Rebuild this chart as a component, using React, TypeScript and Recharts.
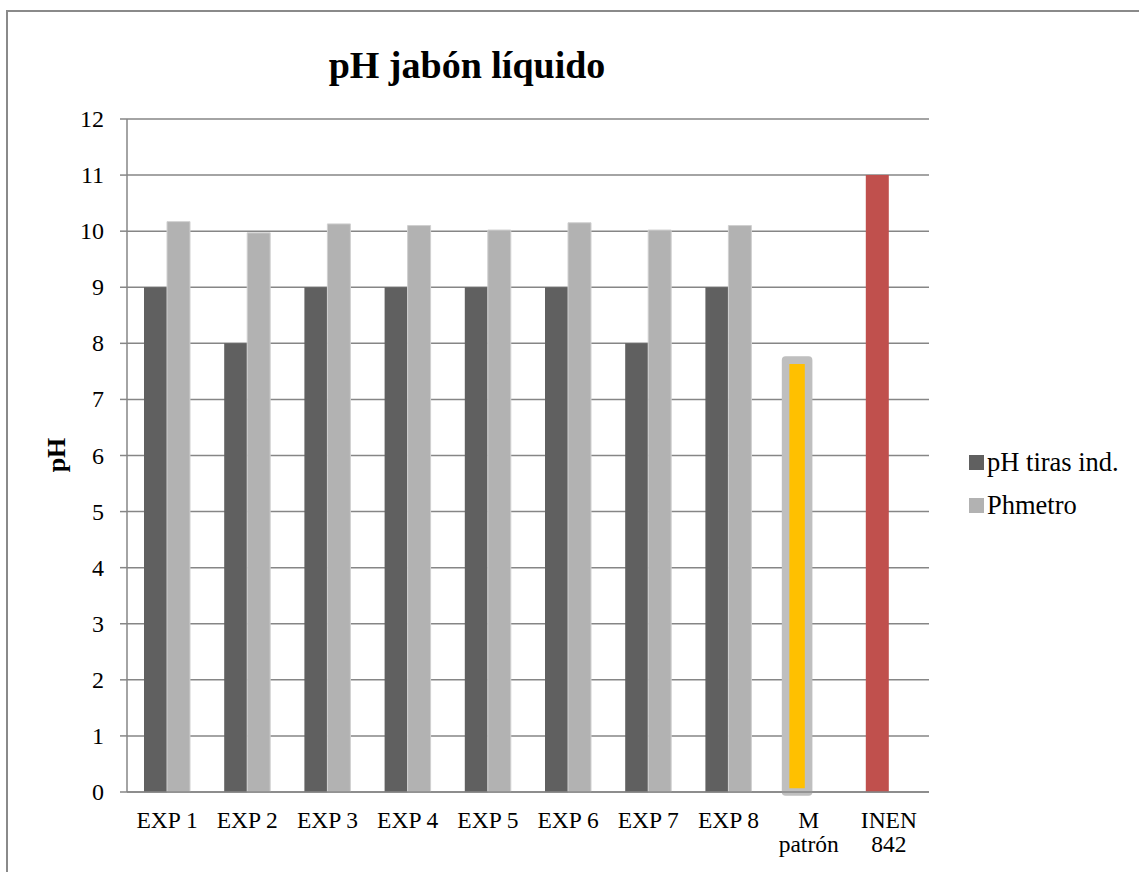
import { Bar, BarChart, CartesianGrid, Cell, XAxis, YAxis } from "recharts";

const categories = ["EXP 1", "EXP 2", "EXP 3", "EXP 4", "EXP 5", "EXP 6", "EXP 7", "EXP 8", "M\npatrón", "INEN\n842"];
const tirasValues = [9, 8, 9, 9, 9, 9, 8, 9, 7.7, 11];
const phmetroValues = [10.17, 9.97, 10.13, 10.1, 10.02, 10.15, 10.02, 10.1, null, null];
const yTicks = [0, 1, 2, 3, 4, 5, 6, 7, 8, 9, 10, 11, 12];
const seriesNames = ["pH tiras ind.", "Phmetro"];

const FONT = '"Liberation Serif", "Times New Roman", Times, serif';
const GRID = "#868686";
const DARK = "#606060";
const LIGHT = "#b2b2b2";

const data = categories.map((name, i) => ({
  name,
  tiras: tirasValues[i],
  phmetro: phmetroValues[i],
}));

interface TickProps {
  x?: number;
  y?: number;
  payload?: { value: string };
}

function CategoryTick({ x, y, payload }: TickProps) {
  const lines = String(payload?.value ?? "").split("\n");
  return (
    <text x={x} y={y} textAnchor="middle" fontFamily={FONT} fontSize={23.5} fill="#000">
      {lines.map((line, i) => (
        <tspan key={i} x={x} dy={i === 0 ? 28 : 24}>
          {line}
        </tspan>
      ))}
    </text>
  );
}

function ValueTick({ x, y, payload }: TickProps) {
  return (
    <text x={x} y={y} dy={8} textAnchor="end" fontFamily={FONT} fontSize={24} fill="#000">
      {payload?.value}
    </text>
  );
}

export default function App() {
  return (
    <div
      style={{
        position: "absolute",
        left: 0,
        top: 0,
        width: 1139,
        height: 872,
        overflow: "hidden",
        background: "#fff",
        fontFamily: FONT,
      }}
    >
      <div
        style={{
          position: "absolute",
          left: 0,
          top: 43,
          width: 934,
          textAlign: "center",
          fontFamily: FONT,
          fontWeight: "bold",
          fontSize: 38,
          lineHeight: "normal",
        }}
      >
        pH jabón líquido
      </div>
      <div
        style={{
          position: "absolute",
          left: 7,
          top: 442,
          width: 100,
          height: 26,
          lineHeight: "26px",
          textAlign: "center",
          fontFamily: FONT,
          fontWeight: "bold",
          fontSize: 26,
          transform: "rotate(-90deg)",
        }}
      >
        pH
      </div>
      <div style={{ position: "absolute", left: 969, top: 441, fontFamily: FONT, fontSize: 26.5, color: "#000" }}>
        {seriesNames.map((label, i) => (
          <div key={label} style={{ display: "flex", alignItems: "center", height: 43 }}>
            <span
              style={{
                display: "inline-block",
                width: 15,
                height: 15,
                background: i === 0 ? DARK : LIGHT,
                marginRight: 3,
              }}
            />
            <span>{label}</span>
          </div>
        ))}
      </div>
      <BarChart
        width={1139}
        height={872}
        data={data}
        margin={{ top: 119, right: 210, bottom: 10, left: 67 }}
        barSize={23}
        barGap={0}
        style={{ position: "absolute", left: 0, top: 0 }}
      >
        <CartesianGrid horizontal vertical={false} stroke={GRID} strokeWidth={1.5} />
        <XAxis
          dataKey="name"
          height={70}
          axisLine={{ stroke: GRID, strokeWidth: 1.5 }}
          tickLine={false}
          interval={0}
          tick={<CategoryTick />}
        />
        <YAxis
          width={60}
          domain={[0, 12]}
          ticks={yTicks}
          interval={0}
          axisLine={{ stroke: GRID, strokeWidth: 1.5 }}
          tickLine={{ stroke: GRID, strokeWidth: 1.5 }}
          tickSize={7}
          tickMargin={16}
          tick={<ValueTick />}
        />
        <Bar dataKey="tiras" name={seriesNames[0]} fill={DARK} isAnimationActive={false}>
          {data.map((d, i) => {
            if (i === 8) {
              return <Cell key={i} fill="#FFC000" stroke="#BFBFBF" strokeWidth={7.6} strokeLinejoin="round" />;
            }
            if (i === 9) {
              return <Cell key={i} fill="#C0504D" />;
            }
            return <Cell key={i} fill={DARK} />;
          })}
        </Bar>
        <Bar
          dataKey="phmetro"
          name={seriesNames[1]}
          fill={LIGHT}
          stroke="#d0d0d0"
          strokeWidth={1}
          isAnimationActive={false}
        />
      </BarChart>
      <div
        style={{
          position: "absolute",
          left: 6,
          top: 10,
          width: 1200,
          height: 900,
          borderLeft: "2px solid #8a8a8a",
          borderTop: "2px solid #8a8a8a",
          pointerEvents: "none",
        }}
      />
    </div>
  );
}
